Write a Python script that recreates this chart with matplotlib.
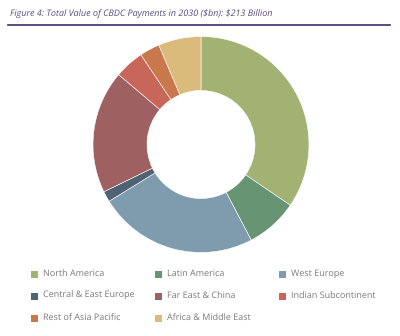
import matplotlib.pyplot as plt
from matplotlib.patches import Rectangle
from matplotlib.lines import Line2D

# CBDC payment value by region, 2030 ($bn)
regions = ['North America', 'Latin America', 'West Europe',
           'Central & East Europe', 'Far East & China', 'Indian Subcontinent',
           'Rest of Asia Pacific', 'Africa & Middle East']
values = [73.5, 16.6, 50.9, 3.4, 39.2, 9.4, 6.4, 13.6]
colors = ['#a2b273', '#679574', '#7f9caf', '#4f6374',
          '#9e6060', '#c9665a', '#c8784c', '#dbbb7c']

title = r'Figure 4: Total Value of CBDC Payments in 2030 (\$bn): \$213 Billion'

plt.rcParams['font.family'] = ['Open Sans', 'DejaVu Sans']
# smoother small text
plt.rcParams['text.hinting'] = 'no_hinting'
plt.rcParams['text.hinting_factor'] = 1

W, H = 400, 336
fig = plt.figure(figsize=(W / 100, H / 100), dpi=100)
fig.patch.set_facecolor('white')

# Title and purple rule underneath
fig.text(10 / W, 1 - 14 / H, title, fontsize=6.6, style='italic',
         color='#5a4d82', va='center', ha='left')
fig.add_artist(Line2D([8 / W, 390 / W], [1 - 25 / H, 1 - 25 / H],
                      color='#3b2c6b', linewidth=1.2))

# Donut
cx, cy, r = 201, 144.5, 108
ax = fig.add_axes([(cx - r) / W, 1 - (cy + r) / H, 2 * r / W, 2 * r / H])
ax.pie(values, colors=colors, startangle=90, counterclock=False,
       radius=1, wedgeprops=dict(width=0.5, edgecolor='white', linewidth=0.4))
ax.set_xlim(-1, 1)
ax.set_ylim(-1, 1)
ax.set_aspect('equal')
ax.axis('off')

# Legend in three columns, filled row by row
col_x = [31, 155, 279]
row_y = [274, 296, 318]
sq = 7
for i, (name, c) in enumerate(zip(regions, colors)):
    x = col_x[i % 3]
    y = row_y[i // 3]
    fig.add_artist(Rectangle((x / W, 1 - (y + sq / 2) / H), sq / W, sq / H,
                             facecolor=c, edgecolor='none',
                             transform=fig.transFigure))
    fig.text((x + 12) / W, 1 - y / H, name, fontsize=6.3,
             color='#7a7a7a', va='center', ha='left')

fig.savefig('out.png', dpi=100)
